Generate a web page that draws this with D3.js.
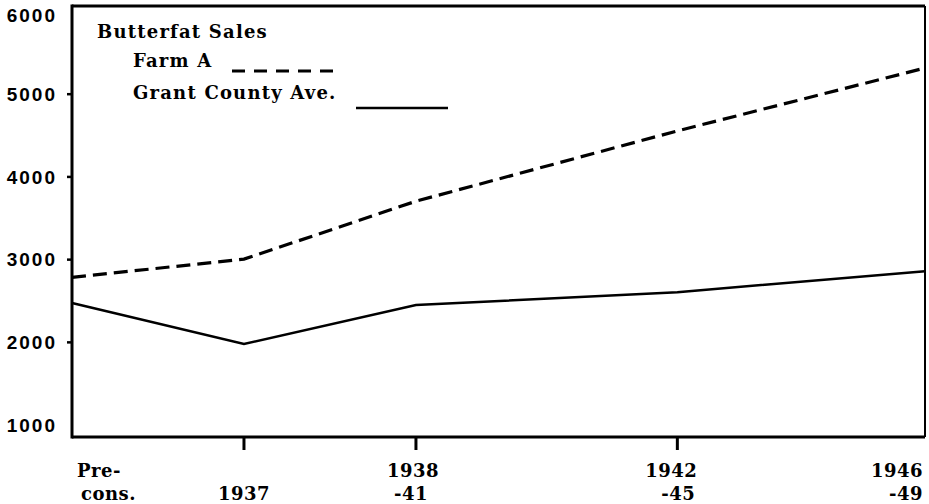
<!DOCTYPE html>
<html>
<head>
<meta charset="utf-8">
<script src="https://cdn.jsdelivr.net/npm/d3@7"></script>
<style>
  body { margin: 0; background: #fff; }
  svg { display: block; }
</style>
</head>
<body>
<svg></svg>
<script>
// periods along the bottom, placed on a year-like scale
var periods = ["Pre-cons.", "1937", "1938-41", "1942-45", "1946-49"];
var periodPos = [0, 1, 2, 3.52, 4.96];
var farmA = [2780, 3000, 3700, 4550, 5310];
var grantCounty = [2470, 1975, 2445, 2600, 2855];
var yTicks = [1000, 2000, 3000, 4000, 5000, 6000];

var svgWidth = 929, svgHeight = 504;
var plotLeft = 72, plotRight = 925, plotTop = 6, plotBottom = 437;

var svg = d3.select("svg")
    .attr("width", svgWidth)
    .attr("height", svgHeight);

var x = d3.scaleLinear().domain([0, 4.96]).range([plotLeft, plotRight]);
var y = d3.scaleLinear().domain([850, 6060]).range([plotBottom, plotTop]);

// frame
svg.append("line").attr("x1", plotLeft).attr("x2", plotRight).attr("y1", plotTop).attr("y2", plotTop)
    .attr("stroke", "#000").attr("stroke-width", 3);
svg.append("line").attr("x1", plotRight).attr("x2", plotRight).attr("y1", plotTop).attr("y2", plotBottom)
    .attr("stroke", "#000").attr("stroke-width", 2);
svg.append("line").attr("x1", plotLeft).attr("x2", plotLeft).attr("y1", plotTop - 1.5).attr("y2", plotBottom + 1.5)
    .attr("stroke", "#000").attr("stroke-width", 3);
svg.append("line").attr("x1", plotLeft).attr("x2", plotRight).attr("y1", plotBottom).attr("y2", plotBottom)
    .attr("stroke", "#000").attr("stroke-width", 3);

// y axis labels
var yAxis = d3.axisLeft(y).tickValues(yTicks).tickSize(5).tickPadding(10)
    .tickFormat(d3.format("d"));
var gy = svg.append("g").attr("transform", "translate(" + plotLeft + ",0)").call(yAxis);
gy.select(".domain").remove();
gy.selectAll(".tick line").attr("stroke", "#000").attr("stroke-width", 2.5)
    .attr("opacity", function(d){ return (d == 6000 || d == 1000) ? 0 : 1; });
gy.selectAll(".tick text")
    .attr("fill", "#000")
    .style("font-family", "'Liberation Sans', Arial, sans-serif")
    .style("font-weight", "bold")
    .style("font-size", "19px")
    .style("letter-spacing", "2px")
    .attr("dy", function(d){ return d == 6000 ? "0.55em" : "0.35em"; });

// x ticks (inner periods only)
svg.selectAll(".xtick")
    .data(periodPos.slice(1, 4))
    .enter()
    .append("line")
    .attr("class", "xtick")
    .attr("x1", function(d){ return x(d); })
    .attr("x2", function(d){ return x(d); })
    .attr("y1", plotBottom)
    .attr("y2", plotBottom + 13)
    .attr("stroke", "#000")
    .attr("stroke-width", 3);

// x labels, two lines each
var serif = "'DejaVu Serif', 'Liberation Serif', serif";
var labelLines = periods.map(function(p, i){
    if (i == 0) return ["Pre-", "cons."];
    if (i == 1) return ["", "1937"];
    var parts = p.split("-");
    return [parts[0], "-" + parts[1]];
});
var anchors = ["start", "middle", "middle", "middle", "end"];
var offsets = [[5, 9], [0, 0], [-3, -5], [-6, 1], [-2, -2]];

var xl = svg.selectAll(".xlabel")
    .data(periodPos)
    .enter()
    .append("g")
    .attr("class", "xlabel");
[0, 1].forEach(function(line){
    xl.append("text")
        .attr("x", function(d, i){ return x(d) + offsets[i][line]; })
        .attr("y", line == 0 ? 477 : 500)
        .attr("text-anchor", function(d, i){ return anchors[i]; })
        .style("font-family", serif)
        .style("font-weight", "bold")
        .style("font-size", "18px")
        .style("letter-spacing", "0.5px")
        .attr("fill", "#000")
        .text(function(d, i){ return labelLines[i][line]; });
});

// data lines
var line = d3.line()
    .x(function(d){ return x(d[0]); })
    .y(function(d){ return y(d[1]); });

svg.append("path")
    .datum(d3.zip(periodPos, farmA))
    .attr("d", line)
    .attr("fill", "none")
    .attr("stroke", "#000")
    .attr("stroke-width", 3.2)
    .attr("stroke-dasharray", "14,7");

svg.append("path")
    .datum(d3.zip(periodPos, grantCounty))
    .attr("d", line)
    .attr("fill", "none")
    .attr("stroke", "#000")
    .attr("stroke-width", 2.5);

// legend
function legText(tx, ty, s) {
    svg.append("text").attr("x", tx).attr("y", ty).text(s)
        .style("font-family", serif)
        .style("font-weight", "bold")
        .style("font-size", "18px")
        .style("letter-spacing", "1.2px")
        .attr("fill", "#000");
}
legText(97, 38, "Butterfat Sales");
legText(133, 67, "Farm A");
legText(133, 99, "Grant County Ave.");
svg.append("line").attr("x1", 232).attr("x2", 334).attr("y1", 71).attr("y2", 71)
    .attr("stroke", "#000").attr("stroke-width", 3).attr("stroke-dasharray", "13,9");
svg.append("line").attr("x1", 356).attr("x2", 448).attr("y1", 108).attr("y2", 108)
    .attr("stroke", "#000").attr("stroke-width", 2.5);
</script>
</body>
</html>
